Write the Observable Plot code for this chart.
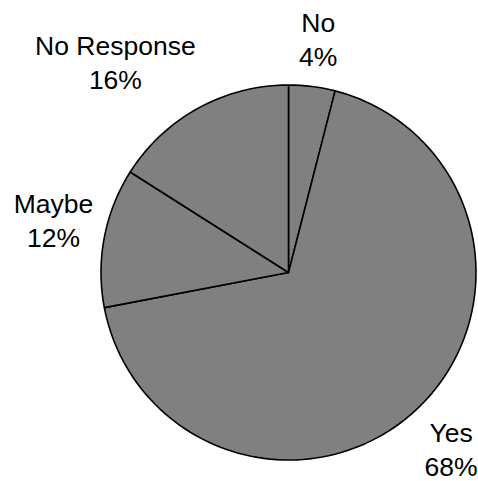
<!DOCTYPE html>
<html><head><meta charset="utf-8">
<script src="https://cdn.jsdelivr.net/npm/d3@7"></script>
<script src="https://cdn.jsdelivr.net/npm/@observablehq/plot@0.6"></script>
<style>html,body{margin:0;padding:0;background:#fff} svg{display:block}</style>
</head><body><div id="chart"></div>
<script>
// data
const categories = ["No", "Yes", "Maybe", "No Response"];
const values = [4, 68, 12, 16];
const percentLabels = ["4%", "68%", "12%", "16%"];

// layout
const W = 478, H = 481, CX = 288, CY = 272, R = 187.5;
const FONT = 26.5, LINE = 34;
const FAMILY = '"Liberation Sans", Arial, Helvetica, sans-serif';

const total = d3.sum(values);
const ctx = document.createElement("canvas").getContext("2d");
ctx.font = `${FONT}px ${FAMILY}`;
const clamp = v => Math.max(-1, Math.min(1, 2 * v));

let acc = 0;
const slicePts = [];
const labelData = [];
categories.forEach((c, i) => {
  const a0 = acc / total * 2 * Math.PI; acc += values[i];
  const a1 = acc / total * 2 * Math.PI;
  const n = Math.max(2, Math.ceil((a1 - a0) / (Math.PI / 90)));
  slicePts.push({slice: c, x: 0, y: 0});
  for (let k = 0; k <= n; k++) {
    const a = a0 + (a1 - a0) * k / n;
    slicePts.push({slice: c, x: Math.sin(a), y: Math.cos(a)});
  }
  slicePts.push({slice: c, x: 0, y: 0});
  const am = (a0 + a1) / 2, s = Math.sin(am), co = Math.cos(am);
  const w = Math.max(ctx.measureText(c).width, ctx.measureText(percentLabels[i]).width);
  const h = 2 * LINE;
  const d = 1.06;
  labelData.push({
    text: c + "\n" + percentLabels[i],
    x: d * s + clamp(s) * w / 2 / R,
    y: d * co + clamp(co) * h / 2 / R
  });
});

const chart = Plot.plot({
  width: W, height: H, margin: 0,
  style: {fontFamily: FAMILY, background: "#fff"},
  x: {domain: [-CX / R, (W - CX) / R], axis: null},
  y: {domain: [-(H - CY) / R, CY / R], axis: null},
  marks: [
    Plot.line(slicePts, {x: "x", y: "y", z: "slice", fill: "#808080", stroke: "#000", strokeWidth: 1.6, strokeLinejoin: "miter"}),
    Plot.text(labelData, {x: "x", y: "y", text: "text", fontSize: FONT, lineHeight: LINE / FONT, fill: "#000", fontFamily: FAMILY, dy: -3})
  ]
});
document.getElementById("chart").append(chart);
</script>
</body></html>
